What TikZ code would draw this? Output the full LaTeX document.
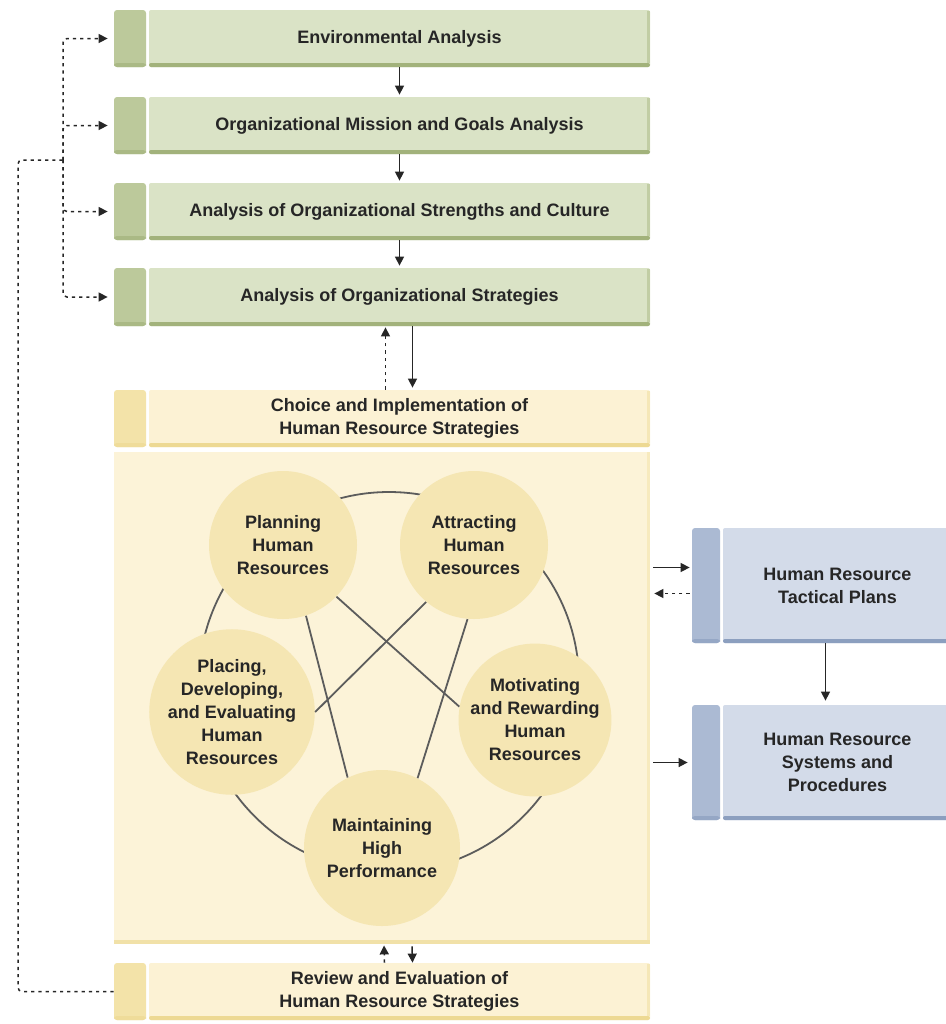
\documentclass[tikz,border=0pt]{standalone}
\usepackage{fontspec}
\setmainfont{Liberation Sans}
\usetikzlibrary{arrows.meta,calc}
\definecolor{gBody}{HTML}{DAE3C6}
\definecolor{gTab}{HTML}{BCC99B}
\definecolor{gSh}{HTML}{A2B27B}
\definecolor{yBody}{HTML}{FCF2D4}
\definecolor{yTab}{HTML}{F3E3A9}
\definecolor{ySh}{HTML}{EDD993}
\definecolor{bBody}{HTML}{D3DBE9}
\definecolor{bTab}{HTML}{ABBAD3}
\definecolor{bSh}{HTML}{8C9FBF}
\definecolor{panelFill}{HTML}{FCF3D8}
\definecolor{circFill}{HTML}{F5E6B3}
\definecolor{ink}{HTML}{262626}
\tikzset{
  lbl/.style={font=\bfseries\fontsize{9}{11.5}\selectfont, text=ink, align=center},
  tabbox/.style={inner sep=0pt, rounded corners=1.5pt},
  bodybox/.style={inner sep=0pt, lbl},
  panelbox/.style={inner sep=0pt, fill=panelFill, minimum width=268pt, minimum height=246pt},
  arr/.style={draw=ink, line width=0.75pt, -{Triangle[length=4.5pt,width=4.5pt]}},
  darr/.style={arr, dash pattern=on 1.6pt off 2pt},
  dline/.style={draw=ink, line width=0.75pt, dash pattern=on 1.6pt off 2pt},
  ring/.style={draw=ink!75, line width=0.9pt},
  stage/.style={circle, fill=circFill, inner sep=0pt, minimum size=74pt, lbl},
}
% #1 name, #2 x-left, #3 x-tab-end, #4 x-right, #5 y-top, #6 y-bottom, #7 colour prefix, #8 text
\newcommand\stepbar[8]{%
  \node[tabbox, fill=#7Tab, minimum width={(#3-#2)*0.5pt}, minimum height={(#6-#5)*0.5pt}]
       (#1-tab) at ({(#2+#3)/2},{(#5+#6)/2}) {};
  \fill[#7Sh!70!#7Tab, rounded corners=1.5pt] (#2,#6-4) rectangle (#3,#6);
  \node[bodybox, fill=#7Body, rounded corners=1pt, minimum width={(#4-#3-3)*0.5pt}, minimum height={(#6-#5)*0.5pt}]
       (#1) at ({(#3+3+#4)/2},{(#5+#6)/2}) {#8};
  \fill[#7Sh, rounded corners=1pt] (#3+3,#6-4) rectangle (#4,#6);
  \fill[#7Sh!45!#7Body] (#4-3,#5+1) rectangle (#4,#6-4);
}
\begin{document}
\begin{tikzpicture}[x=0.5pt,y=-0.5pt]
\useasboundingbox[fill=white] (0,0) rectangle (946,1024);

% left column
\stepbar{env}{114}{146}{650}{10}{67}{g}{Environmental Analysis}
\stepbar{mis}{114}{146}{650}{97}{154}{g}{Organizational Mission and Goals Analysis}
\stepbar{str}{114}{146}{650}{183}{240}{g}{Analysis of Organizational Strengths and Culture}
\stepbar{stg}{114}{146}{650}{268}{326}{g}{Analysis of Organizational Strategies}
\stepbar{cho}{114}{146}{650}{390}{447}{y}{Choice and Implementation of\\Human Resource Strategies}
\stepbar{rev}{114}{146}{650}{963}{1020}{y}{Review and Evaluation of\\Human Resource Strategies}

% panel
\node[panelbox] (pan) at (382,698) {};
\fill[yTab!55!panelFill] ($(pan.north east)+(-3,0)$) rectangle (pan.south east);
\fill[ySh!70!panelFill] ($(pan.south west)+(0,-4)$) rectangle (pan.south east);

% right column
\stepbar{tac}{692}{720}{952}{528}{643}{b}{Human Resource\\Tactical Plans}
\stepbar{sys}{692}{720}{952}{705}{820}{b}{Human Resource\\Systems and\\Procedures}

% ring of stages
\coordinate (hub) at (389,682);
\draw[ring] (hub) circle[radius=95pt];
\node[stage] (plan) at (283,545) {Planning\\Human\\Resources};
\node[stage] (attr) at (474,545) {Attracting\\Human\\Resources};
\node[stage] (plac) at (232,712) {Placing,\\Developing,\\and Evaluating\\Human\\Resources};
\node[stage] (moti) at (535,720) {Motivating\\and Rewarding\\Human\\Resources};
\node[stage, minimum size=78pt] (main) at (382,848) {Maintaining\\High\\Performance};
\draw[ring] (plan.-72) -- (main.116);
\draw[ring] (plan.-44) -- (moti.170);
\draw[ring] (attr.-130) -- (plac.0);
\draw[ring] (attr.-95) -- (main.63);

% vertical flow
\draw[arr, shorten >=1pt] (env.south) -- (mis.north);
\draw[arr, shorten >=1pt] (mis.south) -- (str.north);
\draw[arr, shorten >=1pt] (str.south) -- (stg.north);
\draw[arr, shorten >=1pt] ($(stg.south)+(13,0)$) -- ($(cho.north)+(13,0)$);
\draw[darr, shorten >=0.5pt] ($(cho.north)+(-14,0)$) -- ($(stg.south)+(-14,0)$);
\draw[arr, shorten <=1pt] ($(pan.south)+(30,0)$) -- ($(rev.north)+(13,0)$);
\draw[darr, shorten >=0.5pt] ($(rev.north)+(-15,0)$) -- ($(pan.south)+(2,0)$);

% right connectors
\coordinate (tin) at ($(tac-tab.west)+(-2,-18)$);
\coordinate (tout) at ($(tac-tab.west)+(-2,8)$);
\draw[arr, shorten <=1.5pt] (pan.east |- tin) -- (tin);
\draw[darr, shorten >=2pt] (tout) -- (pan.east |- tout);
\draw[arr, shorten <=1.5pt, shorten >=2pt] (pan.east |- sys-tab.west) -- (sys-tab.west);
\draw[arr, shorten >=2pt] ($(tac.south)+(-12,0)$) -- ($(sys.north)+(-12,0)$);

% feedback loop
\coordinate (jn) at (63,160);
\coordinate (fb) at (18,160);
\foreach \n in {env,mis,str,stg}
  \draw[darr, rounded corners=2pt, shorten >=3pt] (jn) |- (\n-tab.west);
\draw[dline, rounded corners=2pt] (rev-tab.west) -| (fb) -- (jn);
\end{tikzpicture}
\end{document}
